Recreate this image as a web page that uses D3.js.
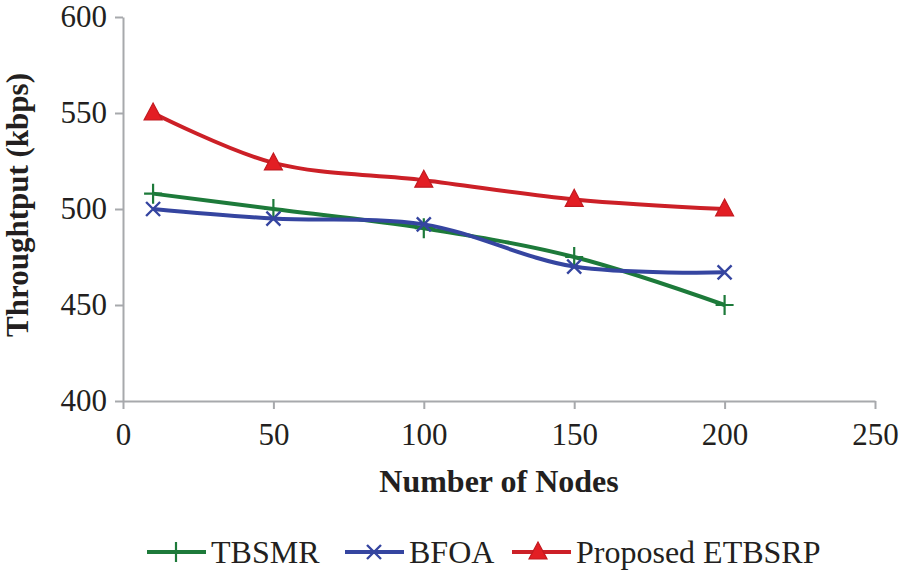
<!DOCTYPE html>
<html>
<head>
<meta charset="utf-8">
<script src="https://d3js.org/d3.v7.min.js"></script>
<style>
  body { margin: 0; background: #fff; }
</style>
</head>
<body>
<script>
// data
const nodes = [10, 50, 100, 150, 200];
const tbsmr = [508, 500, 490, 475, 450];
const bfoa = [500, 495, 492, 470, 467];
const etbsrp = [550, 524, 515, 505, 500];
const seriesNames = ["TBSMR", "BFOA", "Proposed ETBSRP"];
const xTicks = [0, 50, 100, 150, 200, 250];
const yTicks = [400, 450, 500, 550, 600];

const W = 900, H = 570;
const margin = {top: 17, left: 123, right: 25, bottom: 169};
const FONT = "Liberation Serif";

const series = [
  {name: seriesNames[0], values: tbsmr, color: "#1d7a3a", marker: "plus"},
  {name: seriesNames[1], values: bfoa, color: "#3545a0", marker: "cross"},
  {name: seriesNames[2], values: etbsrp, color: "#cc2027", marker: "triangle"}
];

const svg = d3.select("body").append("svg")
  .attr("width", W)
  .attr("height", H)
  .attr("font-family", FONT);

const x = d3.scaleLinear().domain([0, 250]).range([margin.left, W - margin.right]);
const y = d3.scaleLinear().domain([400, 600]).range([H - margin.bottom, margin.top]);

// axes
const xAxis = svg.append("g")
  .attr("transform", `translate(0,${y(400)})`)
  .call(d3.axisBottom(x).tickValues(xTicks).tickSize(8).tickSizeOuter(0).tickPadding(14));
const yAxis = svg.append("g")
  .attr("transform", `translate(${x(0)},0)`)
  .call(d3.axisLeft(y).tickValues(yTicks).tickSize(8).tickSizeOuter(0).tickPadding(8));

[xAxis, yAxis].forEach(a => {
  a.attr("font-family", FONT).attr("font-size", 31);
  a.selectAll("path, line").attr("stroke", "#a7a9ac").attr("stroke-width", 2);
  a.selectAll("text").attr("fill", "#231f20");
});
xAxis.selectAll("text").attr("dy", "0.72em");

// axis titles
svg.append("text")
  .attr("x", (x(0) + x(250)) / 2)
  .attr("y", 492)
  .attr("text-anchor", "middle")
  .attr("font-family", FONT)
  .attr("font-size", 32)
  .attr("font-weight", "bold")
  .attr("fill", "#231f20")
  .text("Number of Nodes");

svg.append("text")
  .attr("transform", `translate(28,205) rotate(-90)`)
  .attr("text-anchor", "middle")
  .attr("font-family", FONT)
  .attr("font-size", 31)
  .attr("font-weight", "bold")
  .attr("fill", "#231f20")
  .text("Throughtput (kbps)");

// lines
const line = d3.line()
  .x((d, i) => x(nodes[i]))
  .y(d => y(d))
  .curve(d3.curveCatmullRom.alpha(0.5));

function drawMarker(g, type, color) {
  if (type === "plus") {
    g.append("path").attr("d", "M-9,0H9M0,-10V10")
      .attr("stroke", color).attr("stroke-width", 2.2).attr("fill", "none");
  } else if (type === "cross") {
    g.append("path").attr("d", "M-7,-7L7,7M-7,7L7,-7")
      .attr("stroke", color).attr("stroke-width", 2.4).attr("fill", "none");
  } else {
    g.append("path").attr("d", "M0,-10L9,7L-9,7Z")
      .attr("fill", "#e31e24").attr("stroke", "#c21a20").attr("stroke-width", 1.2);
  }
}

series.forEach(s => {
  svg.append("path")
    .datum(s.values)
    .attr("d", line)
    .attr("fill", "none")
    .attr("stroke", s.color)
    .attr("stroke-width", 4);
});

series.forEach(s => {
  s.values.forEach((v, i) => {
    const g = svg.append("g").attr("transform", `translate(${x(nodes[i])},${y(v)})`);
    drawMarker(g, s.marker, s.color);
  });
});

// legend
const legendX = [147, 345, 512];
const legendY = 552;
series.forEach((s, i) => {
  const g = svg.append("g").attr("transform", `translate(${legendX[i]},${legendY})`);
  g.append("line").attr("x1", 0).attr("x2", 59).attr("y1", 0).attr("y2", 0)
    .attr("stroke", s.color).attr("stroke-width", 4);
  const m = g.append("g").attr("transform", `translate(${i === 2 ? 26 : 29},0)`);
  drawMarker(m, s.marker, s.color);
  g.append("text")
    .attr("x", 64)
    .attr("y", 11)
    .attr("font-family", FONT)
    .attr("font-size", 32)
    .attr("fill", "#231f20")
    .text(s.name);
});
</script>
</body>
</html>
